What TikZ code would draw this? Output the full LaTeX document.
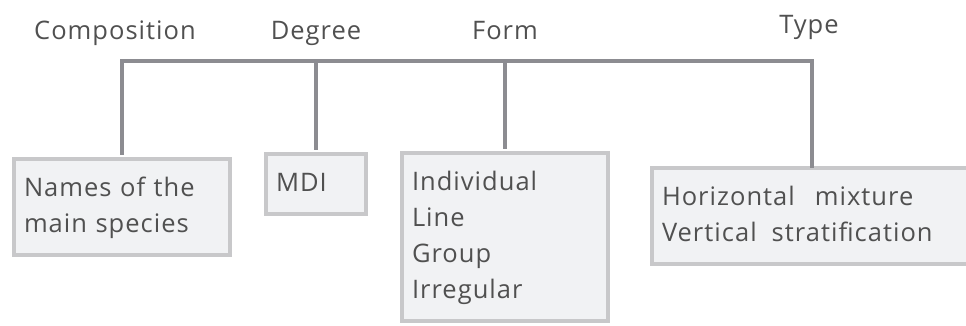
\documentclass[tikz,border=0pt]{standalone}
\usepackage{fontspec}
\setmainfont{Open Sans}[LetterSpace=4]
\definecolor{linkgray}{HTML}{8C8C91}
\definecolor{boxedge}{HTML}{C8C8CA}
\definecolor{boxfill}{HTML}{F1F2F4}
\definecolor{txtgray}{HTML}{505050}
\begin{document}
\begin{tikzpicture}[x=1pt,y=-1pt,
    head/.style={anchor=base, inner sep=0pt, text=txtgray, font=\fontsize{25.5}{36}\selectfont},
    cbox/.style={draw=boxedge, fill=boxfill, line width=4.5pt, inner xsep=10pt, inner ysep=0pt, align=left, text=txtgray, font=\fontsize{25.5}{36}\selectfont},
    link/.style={draw=linkgray, line width=4pt}]
  \useasboundingbox (0,0) rectangle (966,325);
  \clip (0,0) rectangle (966,325);
  \node[head] (comp) at (115,39) {Composition};
  \node[head] (deg) at (316,39) {Degree};
  \node[head] (form) at (505,39) {Form};
  \node[head] (type) at (809,33) {Type};
  \coordinate (bar) at (0,61);
  \node[cbox, text width=196pt, minimum height=96pt] (names) at (122,207) {\strut Names of the\\\strut main species};
  \node[cbox, text width=80pt, minimum height=60pt] (mdi) at (316,184) {\strut MDI};
  \node[cbox, text width=186pt, minimum height=168pt] (forms) at (505,237) {\strut Individual\\\strut Line\\\strut Group\\\strut Irregular};
  \node[cbox, text width=300pt, minimum height=96pt] (types) at (812,216) {\strut Horizontal\hspace{20pt}mixture\\\strut Vertical\hspace{15pt}stratification};
  \draw[link, shorten <=2.25pt] (names.north) |- (bar -| types.north) -- ([yshift=-2.25pt]types.north);
  \draw[link, shorten <=2.25pt] (mdi.north) -- (mdi.north |- bar);
  \draw[link, shorten <=2.25pt] (forms.north) -- (forms.north |- bar);
\end{tikzpicture}
\end{document}
